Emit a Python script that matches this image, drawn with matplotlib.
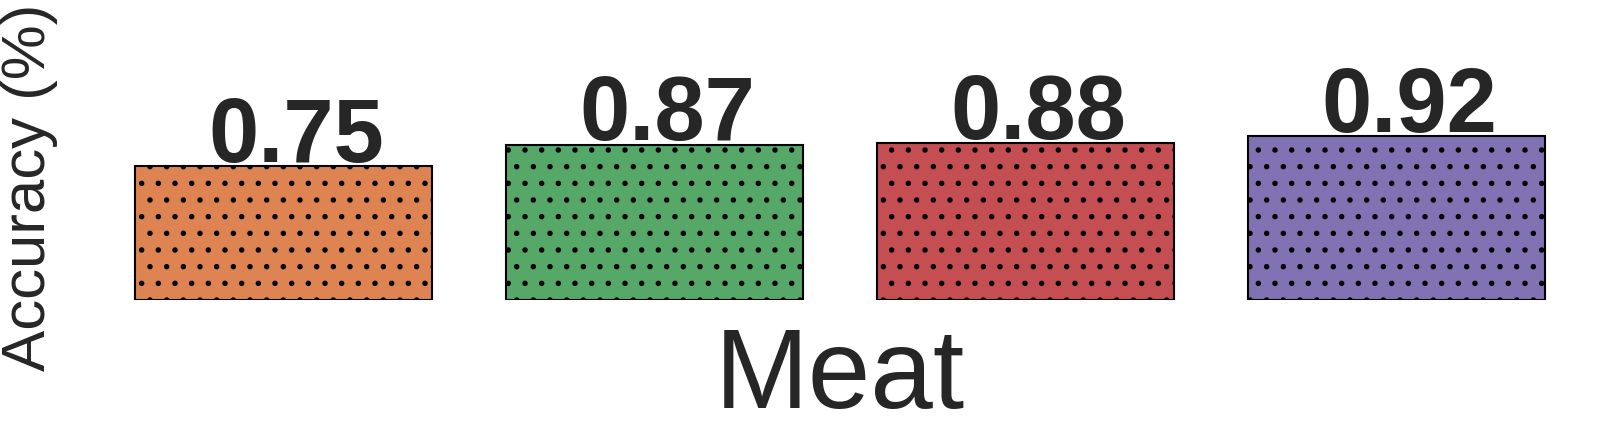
import matplotlib
matplotlib.use('Agg')
import matplotlib.pyplot as plt

# bar values, one per model
models = ['m1', 'm2', 'm3', 'm4']
accuracy = [0.75, 0.87, 0.88, 0.92]
colors = ['#DD8452', '#55A868', '#C44E52', '#8172B3']

plt.rcParams['font.family'] = ['Liberation Sans', 'DejaVu Sans']
plt.rcParams['text.color'] = '#262626'
plt.rcParams['axes.labelcolor'] = '#262626'
plt.rcParams['hatch.color'] = 'black'
plt.rcParams['hatch.linewidth'] = 1.5

fig = plt.figure(figsize=(16.14, 4.318), dpi=100)
ax = fig.add_axes([0.0605, 0.303, 0.920, 0.4975])

x = range(len(models))
bars = ax.bar(x, accuracy, width=0.8, color=colors, edgecolor='black',
              linewidth=1.5, hatch='.')

for xi, v in zip(x, accuracy):
    ax.annotate(f'{v:.2f}', (xi, v), xytext=(9, 3.6), textcoords='offset points',
                ha='center', va='baseline', fontsize=65, fontweight='bold')

ax.set_xlim(-0.5, 3.5)
ax.set_ylim(0, 1.202)
ax.set_xticks([])
ax.set_yticks([])
for s in ax.spines.values():
    s.set_visible(False)

ax.set_xlabel('Meat', fontsize=81, labelpad=18)
ax.set_ylabel('Accuracy (%)', fontsize=44.5)
ax.yaxis.set_label_coords(-0.027, 0.53)

fig.savefig('out.png', dpi=100)
